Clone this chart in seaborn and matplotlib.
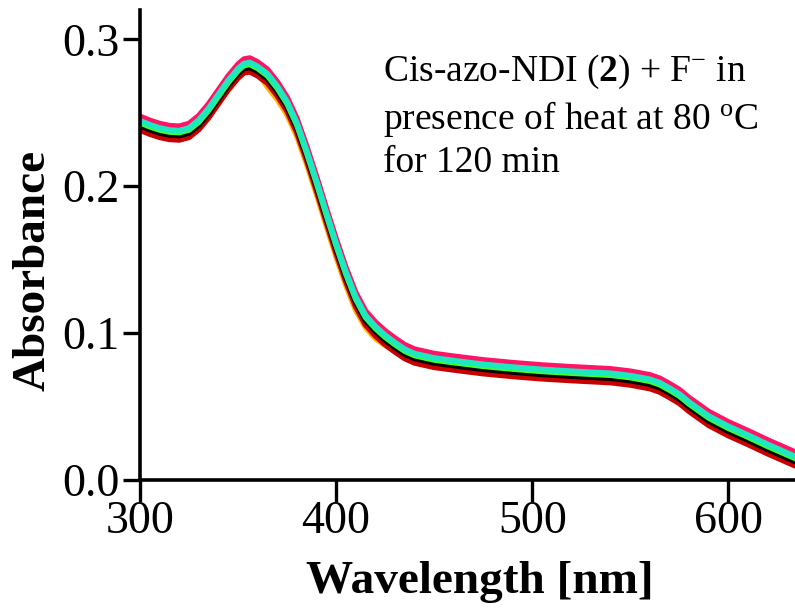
import numpy as np
import pandas as pd
import matplotlib
matplotlib.use("Agg")
import matplotlib.pyplot as plt
import seaborn as sns

wavelength = [300, 305, 310, 315, 320, 325, 330, 335, 340, 345,
              350, 353, 356, 360, 365, 370, 375, 380, 385, 390,
              395, 400, 405, 410, 415, 420, 425, 430, 435, 440,
              450, 460, 475, 490, 505, 520, 540, 550, 560, 565,
              570, 575, 580, 590, 600, 610, 620, 634]

orange = [0.2403, 0.2376, 0.2354, 0.2340, 0.2336, 0.2354, 0.2408, 0.2488, 0.2583, 0.2678,
          0.2758, 0.2793, 0.2800, 0.2773, 0.2678, 0.2593, 0.2488, 0.2343, 0.2153, 0.1948,
          0.1733, 0.1523, 0.1328, 0.1158, 0.1040, 0.0965, 0.0918, 0.0880, 0.0840, 0.0812,
          0.0788, 0.0770, 0.0745, 0.0726, 0.0710, 0.0698, 0.0684, 0.0668, 0.0643, 0.0620,
          0.0583, 0.0543, 0.0488, 0.0393, 0.0323, 0.0263, 0.0200, 0.0118]
red = [0.2383, 0.2356, 0.2334, 0.2320, 0.2316, 0.2334, 0.2388, 0.2468, 0.2563, 0.2658,
       0.2738, 0.2773, 0.2780, 0.2753, 0.2703, 0.2618, 0.2513, 0.2368, 0.2178, 0.1973,
       0.1758, 0.1548, 0.1353, 0.1183, 0.1058, 0.0983, 0.0923, 0.0873, 0.0828, 0.0798,
       0.0768, 0.0750, 0.0725, 0.0706, 0.0690, 0.0678, 0.0664, 0.0648, 0.0623, 0.0600,
       0.0563, 0.0523, 0.0468, 0.0373, 0.0303, 0.0243, 0.0180, 0.0098]
black = [0.2413, 0.2386, 0.2364, 0.2350, 0.2346, 0.2364, 0.2418, 0.2498, 0.2593, 0.2688,
         0.2768, 0.2803, 0.2810, 0.2783, 0.2733, 0.2648, 0.2543, 0.2398, 0.2208, 0.2003,
         0.1788, 0.1578, 0.1383, 0.1213, 0.1088, 0.1013, 0.0953, 0.0903, 0.0858, 0.0828,
         0.0798, 0.0780, 0.0755, 0.0736, 0.0720, 0.0708, 0.0694, 0.0678, 0.0653, 0.0630,
         0.0593, 0.0553, 0.0498, 0.0403, 0.0333, 0.0273, 0.0210, 0.0128]
green = [0.2433, 0.2406, 0.2384, 0.2370, 0.2366, 0.2384, 0.2438, 0.2518, 0.2613, 0.2708,
         0.2788, 0.2823, 0.2830, 0.2803, 0.2753, 0.2668, 0.2563, 0.2418, 0.2228, 0.2023,
         0.1808, 0.1598, 0.1403, 0.1233, 0.1108, 0.1033, 0.0973, 0.0923, 0.0878, 0.0848,
         0.0818, 0.0800, 0.0775, 0.0756, 0.0740, 0.0728, 0.0714, 0.0698, 0.0673, 0.0650,
         0.0613, 0.0573, 0.0518, 0.0423, 0.0353, 0.0293, 0.0230, 0.0148]
pink = [0.2475, 0.2448, 0.2426, 0.2412, 0.2408, 0.2426, 0.2480, 0.2560, 0.2655, 0.2750,
        0.2830, 0.2865, 0.2872, 0.2845, 0.2795, 0.2710, 0.2605, 0.2460, 0.2270, 0.2065,
        0.1850, 0.1640, 0.1445, 0.1275, 0.1150, 0.1075, 0.1015, 0.0965, 0.0920, 0.0890,
        0.0860, 0.0842, 0.0817, 0.0798, 0.0782, 0.0770, 0.0756, 0.0740, 0.0715, 0.0692,
        0.0655, 0.0615, 0.0560, 0.0465, 0.0395, 0.0335, 0.0272, 0.0190]
cyan = [0.2445, 0.2418, 0.2396, 0.2382, 0.2378, 0.2396, 0.2450, 0.2530, 0.2625, 0.2720,
        0.2800, 0.2835, 0.2842, 0.2815, 0.2765, 0.2680, 0.2575, 0.2430, 0.2240, 0.2035,
        0.1820, 0.1610, 0.1415, 0.1245, 0.1120, 0.1045, 0.0985, 0.0935, 0.0890, 0.0860,
        0.0830, 0.0812, 0.0787, 0.0768, 0.0752, 0.0740, 0.0726, 0.0710, 0.0685, 0.0662,
        0.0625, 0.0585, 0.0530, 0.0435, 0.0365, 0.0305, 0.0242, 0.0160]

series_names = ["orange", "red", "black", "green", "pink", "cyan"]
series_values = [orange, red, black, green, pink, cyan]
series_colors = ["#ffb400", "#c80000", "#000000", "#44ff22", "#ff1466", "#1de9c0"]

x_ticks = [300, 400, 500, 600]
y_ticks = [0.0, 0.1, 0.2, 0.3]
y_tick_labels = ["0.0", "0.1", "0.2", "0.3"]

frames = []
for name, vals in zip(series_names, series_values):
    frames.append(pd.DataFrame({"wl": wavelength, "A": vals, "s": name}))
df = pd.concat(frames, ignore_index=True)

sns.set_style("ticks")
plt.rcParams["font.family"] = ["Liberation Serif", "DejaVu Serif"]
plt.rcParams["mathtext.fontset"] = "custom"
plt.rcParams["mathtext.rm"] = "Liberation Serif"
plt.rcParams["mathtext.bf"] = "Liberation Serif:bold"
plt.rcParams["mathtext.it"] = "Liberation Serif:italic"
plt.rcParams["text.color"] = "black"
plt.rcParams["axes.labelcolor"] = "black"

fig = plt.figure(figsize=(7.95, 6.09), dpi=100)
ax = fig.add_axes([140/795, 1 - 480/609, 1 - 140/795, 470/609])

sns.lineplot(data=df, x="wl", y="A", hue="s", hue_order=series_names,
             palette=dict(zip(series_names, series_colors)), ax=ax,
             linewidth=4.2, legend=False, sort=False,
             solid_joinstyle="round", solid_capstyle="round")

ax.set_xlim(300, 634)
ax.set_ylim(0, 0.32)
ax.set_xticks(x_ticks)
ax.set_yticks(y_ticks)
ax.set_yticklabels(y_tick_labels)
ax.tick_params(axis="both", labelsize=33, width=2.4, direction="out",
               color="black", labelcolor="black")
ax.tick_params(axis="y", length=12.5, pad=2)
ax.tick_params(axis="x", length=16, pad=-1)

for side in ["top", "right"]:
    ax.spines[side].set_visible(False)
for side in ["left", "bottom"]:
    ax.spines[side].set_linewidth(2.6)
    ax.spines[side].set_color("black")

ax.set_xlabel("Wavelength [nm]", fontsize=34, fontweight="bold", va="center")
ax.xaxis.set_label_coords((480 - 140) / 655, -(582 - 480) / 470)
ax.set_ylabel("Absorbance", fontsize=34, fontweight="bold", va="center")
ax.yaxis.set_label_coords((34 - 140) / 655, (480 - 270) / 470)

ax.text((383 - 140) / 655, (480 - 53) / 470,
        "Cis-azo-NDI ($\\mathbf{2}$) + F$^{-}$ in\npresence of heat at 80 $^{\\mathrm{o}}$C\nfor 120 min",
        transform=ax.transAxes, fontsize=27, va="top", ha="left", linespacing=1.25)

fig.savefig("out.png", dpi=100)
